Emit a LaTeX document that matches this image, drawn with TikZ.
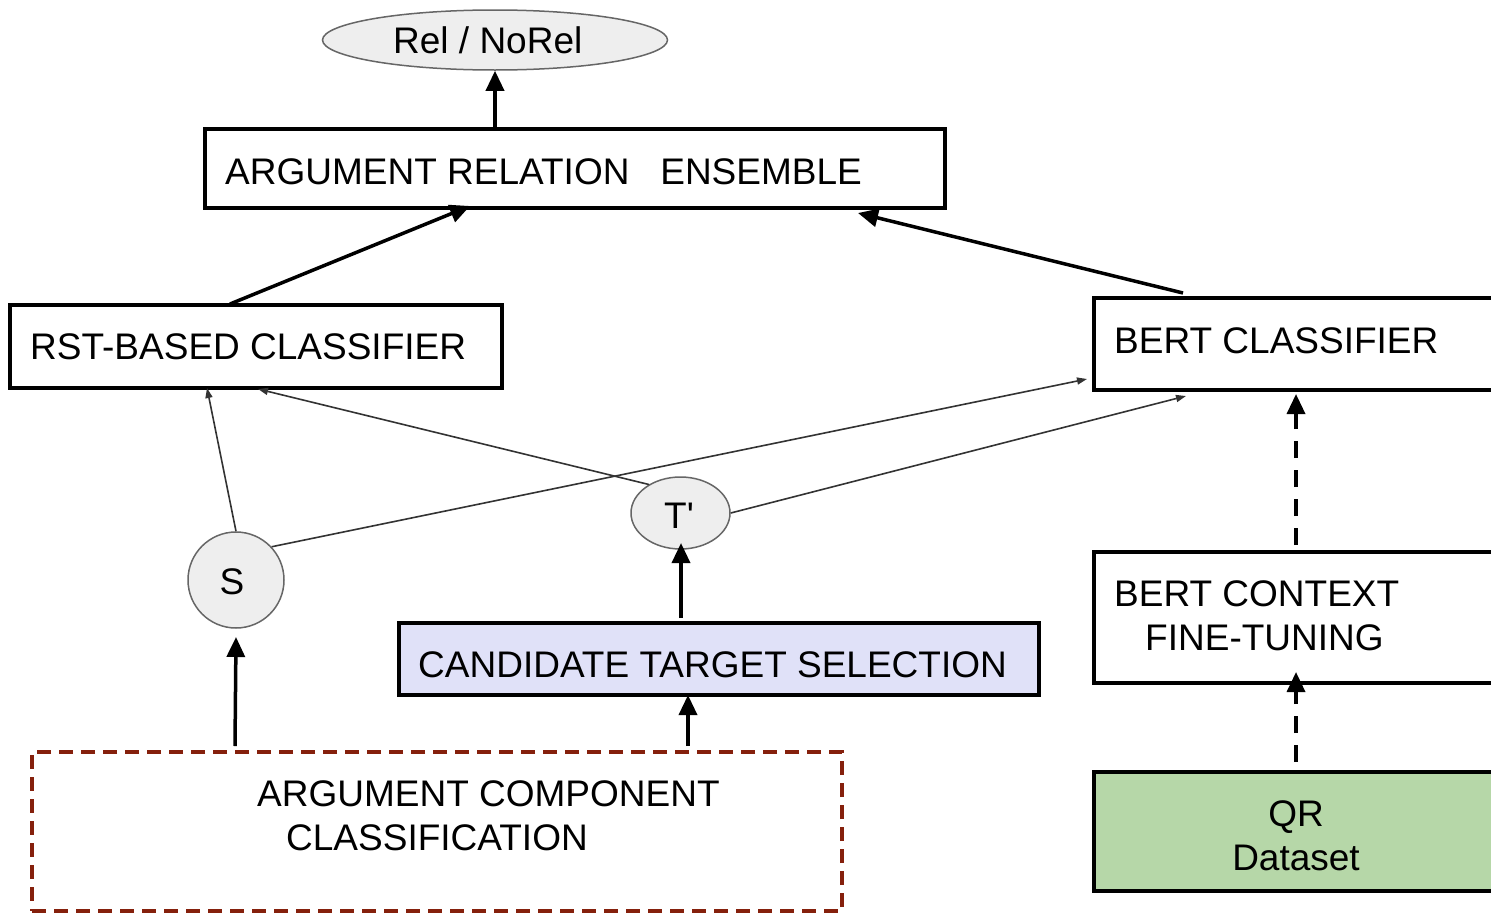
\documentclass[tikz,border=0pt]{standalone}
\usepackage{fontspec}
\setmainfont{Liberation Sans}
\usetikzlibrary{arrows.meta,shapes.geometric}
\definecolor{nodefill}{HTML}{EEEEEE}
\definecolor{nodeline}{HTML}{666666}
\definecolor{lavfill}{HTML}{E0E1F8}
\definecolor{qrgreen}{HTML}{B6D7A8}
\definecolor{accbrown}{HTML}{85200C}
\begin{document}
\begin{tikzpicture}[x=1pt,y=-1pt,font=\fontsize{37}{44}\selectfont,
  box/.style={draw=black,line width=3.5pt,rectangle,inner sep=0pt},
  txt/.style={inner sep=0pt,anchor=base west},
  ctxt/.style={inner sep=0pt,anchor=base},
  bubble/.style={draw=nodeline,fill=nodefill,line width=1.5pt,inner sep=0pt},
  bigarrow/.style={draw=black,line width=3.5pt,-{Triangle[length=20pt,width=18pt]}},
  dasharrow/.style={bigarrow,dash pattern=on 17pt off 12pt},
  thinarrow/.style={draw=black!80,line width=1.6pt,-{Triangle[length=10pt,width=7pt]}}]
\useasboundingbox (0,0) rectangle (1491,913);
\clip (0,0) rectangle (1491,913);

% output
\node[bubble,ellipse,minimum width=345pt,minimum height=60pt] (rel) at (495,40) {};
\node[txt] (relt) at (393,53) {Rel / NoRel};

% ensemble
\node[box,minimum width=740pt,minimum height=79pt] (ens) at (575,168.5) {};
\node[txt] (enst) at (225,184) {ARGUMENT RELATION\ \ \ ENSEMBLE};

% RST classifier
\node[box,minimum width=492pt,minimum height=83pt] (rst) at (256,346.5) {};
\node[txt] (rstt) at (30,359) {RST-BASED CLASSIFIER};

% BERT classifier
\node[box,minimum width=500pt,minimum height=92pt] (bert) at (1344,344) {};
\node[txt] (bertt) at (1114,353) {BERT CLASSIFIER};

% BERT context fine-tuning
\node[box,minimum width=500pt,minimum height=131pt] (bcft) at (1344,617.5) {};
\node[txt] (bcft1) at (1114,606) {BERT CONTEXT};
\node[txt] (bcft2) at (1145,650) {FINE-TUNING};

% QR dataset
\node[box,fill=qrgreen,minimum width=500pt,minimum height=119pt] (qr) at (1344,831.5) {};
\node[ctxt] (qr1) at (1296,826) {QR};
\node[ctxt] (qr2) at (1296,870) {Dataset};

% S and T'
\node[bubble,circle,minimum size=96pt] (s) at (236,580) {};
\node[ctxt] (st) at (232,594) {S};
\node[bubble,ellipse,minimum width=99pt,minimum height=72pt] (tp) at (680.5,513) {};
\node[ctxt] (tpt) at (679,528) {T\textquotesingle};

% candidate target selection
\node[box,fill=lavfill,minimum width=640pt,minimum height=72pt] (cts) at (719,659) {};
\node[txt] (ctst) at (418,677) {CANDIDATE TARGET SELECTION};

% argument component classification
\node[draw=accbrown,line width=3.5pt,dash pattern=on 14pt off 8pt,rectangle,inner sep=0pt,
      minimum width=810pt,minimum height=159pt] (acc) at (437,831.5) {};
\node[txt] (acc1) at (257,806) {ARGUMENT COMPONENT};
\node[txt] (acc2) at (286,850) {CLASSIFICATION};

% connector end points
\coordinate (rstTop) at (230,304);
\coordinate (ensIn1) at (470,206);
\coordinate (bertTop) at (1183,293);
\coordinate (ensIn2) at (858,213);
\coordinate (rstIn1) at (207,388);
\coordinate (rstIn2) at (258,389);
\coordinate (bertIn1) at (1087,379);
\coordinate (bertIn2) at (1186,396);
\coordinate (accOut1) at (235,746);
\coordinate (sIn) at (236,637);
\coordinate (accOut2) at (688,746);
\coordinate (ctsIn) at (688,695);
\coordinate (ctsOut) at (681,618);
\coordinate (tpIn) at (681,543);
\coordinate (qrOut) at (1296,762);
\coordinate (bcftIn) at (1296,672);
\coordinate (bcftOut) at (1296,545);
\coordinate (bertIn3) at (1296,394);

% thick connectors
\draw[bigarrow] (ens.north -| rel.south) -- (rel.south);
\draw[bigarrow] (rstTop) -- (ensIn1);
\draw[bigarrow] (bertTop) -- (ensIn2);
\draw[bigarrow] (accOut1) -- (sIn);
\draw[bigarrow] (accOut2) -- (ctsIn);
\draw[bigarrow] (ctsOut) -- (tpIn);

% dashed connectors
\draw[dasharrow] (qrOut) -- (bcftIn);
\draw[dasharrow] (bcftOut) -- (bertIn3);

% thin connectors
\draw[thinarrow] (s.north) -- (rstIn1);
\draw[thinarrow] (tp.138) -- (rstIn2);
\draw[thinarrow] (s.43) -- (bertIn1);
\draw[thinarrow] (tp.east) -- (bertIn2);
\end{tikzpicture}
\end{document}
